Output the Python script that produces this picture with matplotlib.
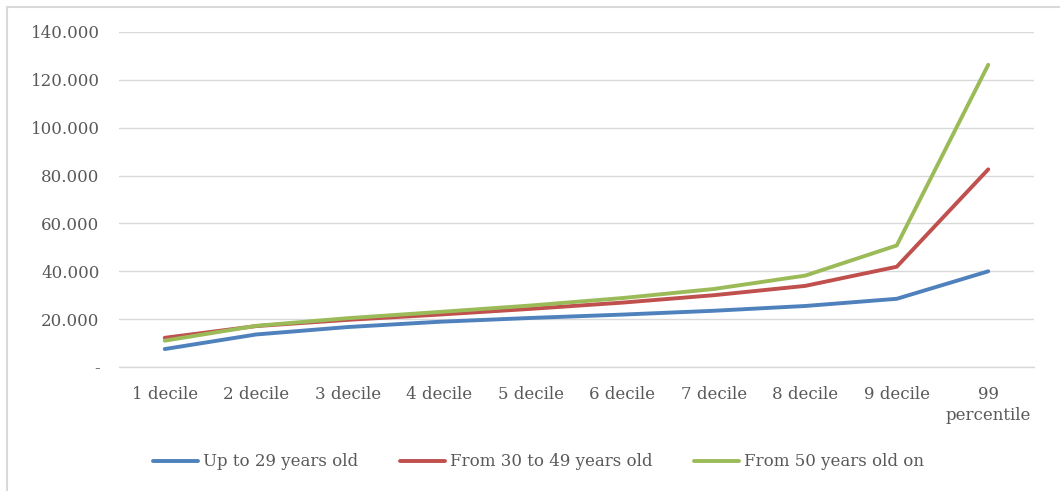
import matplotlib.pyplot as plt
from matplotlib.patches import Rectangle

# Data
categories = ['1 decile', '2 decile', '3 decile', '4 decile', '5 decile',
              '6 decile', '7 decile', '8 decile', '9 decile', '99\npercentile']
up_to_29 = [7500, 13600, 16700, 18900, 20500, 21900, 23500, 25500, 28500, 40000]
from_30_49 = [12200, 17100, 19700, 21900, 24300, 26900, 30000, 33900, 41900, 82600]
from_50 = [11000, 17200, 20400, 23000, 25700, 28800, 32600, 38200, 50800, 126300]
series_names = ['Up to 29 years old', 'From 30 to 49 years old', 'From 50 years old on']
colors = ['#4F81BD', '#C0504D', '#9BBB59']
yticks = [0, 20000, 40000, 60000, 80000, 100000, 120000, 140000]

plt.rcParams['font.family'] = ['DejaVu Serif']
text_color = '#595959'

fig = plt.figure(figsize=(10.6, 4.91), dpi=100)
ax = fig.add_axes([119 / 1060, 1 - 367 / 491, 915 / 1060, 335 / 491])

# light frame round the chart area (runs off the right edge)
fig.patches.append(Rectangle((7 / 1060, -0.1), 1.2, 1.1 - 7 / 491, transform=fig.transFigure,
                             fill=False, edgecolor='#D9D9D9', linewidth=1.5))

x = list(range(len(categories)))
for vals, name, c in zip([up_to_29, from_30_49, from_50], series_names, colors):
    ax.plot(x, vals, color=c, linewidth=2.8, label=name, solid_capstyle='round')

ax.set_xlim(-0.5, len(categories) - 0.5)
ax.set_ylim(0, 140000)
ax.set_yticks(yticks)
ax.set_yticklabels(['-' if v == 0 else f'{v:,}'.replace(',', '.') for v in yticks])
ax.set_xticks(x)
ax.set_xticklabels(categories, linespacing=1.3)
ax.tick_params(length=0, labelsize=12, colors=text_color)
ax.tick_params(axis='y', pad=14)
ax.tick_params(axis='x', pad=14)

ax.grid(axis='y', color='#D9D9D9', linewidth=1)
ax.axhline(0, color='#D9D9D9', linewidth=1, zorder=0.5, clip_on=False)
ax.set_axisbelow(True)
for s in ax.spines.values():
    s.set_visible(False)

fig.legend(loc='center', bbox_to_anchor=(0.508, 1 - 462 / 491), ncol=3, frameon=False,
           fontsize=12, labelcolor=text_color, handlelength=2.7, handletextpad=0.3,
           columnspacing=2.5)

fig.savefig('out.png', dpi=100)
